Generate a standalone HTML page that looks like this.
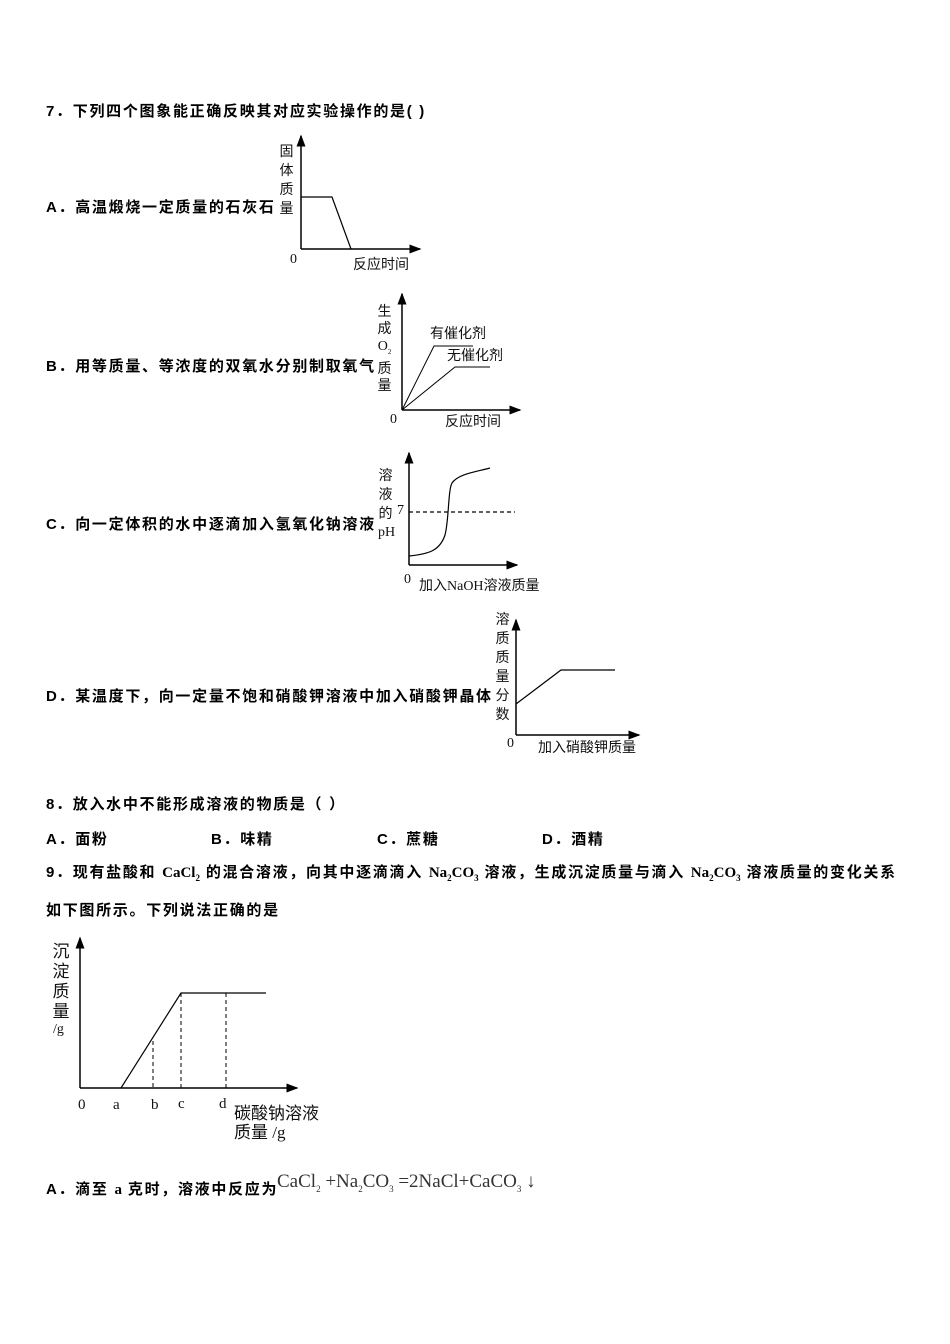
<!DOCTYPE html>
<html><head><meta charset="utf-8"><style>
body{margin:0;background:#fff;}
#p{position:relative;width:950px;height:1344px;overflow:hidden;font-family:"Liberation Serif","Noto Sans CJK SC",serif;}
.t{position:absolute;font-size:15px;letter-spacing:1.7px;font-weight:bold;white-space:nowrap;line-height:16px;font-family:"Liberation Sans","Noto Sans CJK SC",sans-serif;}
.t b{font-family:"Liberation Serif","Noto Serif CJK SC",serif;letter-spacing:0;}
.l{position:absolute;font-size:14px;white-space:nowrap;line-height:14px;font-family:"Liberation Serif","Noto Sans CJK SC",sans-serif;color:#111;}
.v{position:absolute;font-size:14px;line-height:15px;width:15px;text-align:center;font-family:"Liberation Serif","Noto Sans CJK SC",sans-serif;color:#111;}
svg{position:absolute;left:0;top:0;}
sub{font-size:9px;}
</style></head><body><div id="p">
<svg width="950" height="1344" fill="none" stroke="#000" stroke-width="1.5">
<defs><marker id="a" markerWidth="8" markerHeight="8" refX="7" refY="4" orient="auto"><path d="M0,1 L8,4 L0,7Z" fill="#000" stroke="none"/></marker></defs>
<path d="M301,249 V136" marker-end="url(#a)"/><path d="M301,249 H420" marker-end="url(#a)"/>
<path d="M301,197 H332 L351,249" stroke-width="1.2"/>
<path d="M402,410 V294" marker-end="url(#a)"/><path d="M402,410 H520" marker-end="url(#a)"/>
<path d="M402,410 L434,346 H473 M402,410 L455,367 H490" stroke-width="1"/>
<path d="M409,565 V453" marker-end="url(#a)"/><path d="M409,565 H517" marker-end="url(#a)"/>
<path d="M409,512 H515" stroke-dasharray="4,3" stroke-width="1.2"/>
<path d="M409,556 C430,554 440,550 445,535 C449,520 448,490 452,483 C458,474 475,472 490,468" stroke-width="1.2"/>
<path d="M516,735 V620" marker-end="url(#a)"/><path d="M516,735 H639" marker-end="url(#a)"/>
<path d="M516,704 L561,670 H615" stroke-width="1.2"/>
<path d="M80,1088 V938" marker-end="url(#a)"/><path d="M80,1088 H297" marker-end="url(#a)"/>
<path d="M121,1088 L181,993 H266" stroke-width="1.2"/>
<path d="M153,1041 V1088 M181,993 V1088 M226,993 V1088" stroke-dasharray="4,3" stroke-width="1"/>
</svg>
<div class="t" style="left:46px;top:104px">7．下列四个图象能正确反映其对应实验操作的是( )</div>
<div class="t" style="left:46px;top:200px">A．高温煅烧一定质量的石灰石</div>
<div class="t" style="left:46px;top:359px">B．用等质量、等浓度的双氧水分别制取氧气</div>
<div class="t" style="left:46px;top:517px">C．向一定体积的水中逐滴加入氢氧化钠溶液</div>
<div class="t" style="left:46px;top:689px">D．某温度下，向一定量不饱和硝酸钾溶液中加入硝酸钾晶体</div>
<div class="t" style="left:46px;top:797px">8．放入水中不能形成溶液的物质是（ ）</div>
<div class="t" style="left:46px;top:832px">A．面粉</div>
<div class="t" style="left:211px;top:832px">B．味精</div>
<div class="t" style="left:377px;top:832px">C．蔗糖</div>
<div class="t" style="left:542px;top:832px">D．酒精</div>
<div class="t" style="left:46px;top:865px">9．现有盐酸和 <b>CaCl<sub>2</sub></b> 的混合溶液，向其中逐滴滴入 <b>Na<sub>2</sub>CO<sub>3</sub></b> 溶液，生成沉淀质量与滴入 <b>Na<sub>2</sub>CO<sub>3</sub></b> 溶液质量的变化关系</div>
<div class="t" style="left:46px;top:903px">如下图所示。下列说法正确的是</div>
<div class="t" style="left:46px;top:1182px">A．滴至 <b>a</b> 克时，溶液中反应为</div>
<div class="l" style="left:277px;top:1172px;font-size:19px;line-height:19px;color:#333">CaCl<sub>2</sub> +Na<sub>2</sub>CO<sub>3</sub> =2NaCl+CaCO<sub>3</sub> ↓</div>
<div class="v" style="left:279px;top:143px;line-height:19px">固<br>体<br>质<br>量</div>
<div class="l" style="left:290px;top:253px">0</div>
<div class="l" style="left:353px;top:259px">反应时间</div>
<div class="v" style="left:377px;top:304px;line-height:17px">生<br>成<br>O<sub style="font-size:7px">2</sub><br>质<br>量</div>
<div class="l" style="left:430px;top:328px">有催化剂</div>
<div class="l" style="left:447px;top:350px">无催化剂</div>
<div class="l" style="left:390px;top:413px">0</div>
<div class="l" style="left:445px;top:416px">反应时间</div>
<div class="v" style="left:378px;top:467px;line-height:19px">溶<br>液<br>的</div>
<div class="l" style="left:378px;top:526px">pH</div>
<div class="l" style="left:397px;top:504px">7</div>
<div class="l" style="left:404px;top:573px">0</div>
<div class="l" style="left:419px;top:580px">加入NaOH溶液质量</div>
<div class="v" style="left:495px;top:611px;line-height:19px">溶<br>质<br>质<br>量<br>分<br>数</div>
<div class="l" style="left:507px;top:737px">0</div>
<div class="l" style="left:538px;top:742px">加入硝酸钾质量</div>
<div class="v" style="left:52px;top:942px;font-size:17px;line-height:20px;width:18px">沉<br>淀<br>质<br>量</div>
<div class="l" style="left:53px;top:1023px">/g</div>
<div class="l" style="left:78px;top:1098px;font-size:15px">0</div>
<div class="l" style="left:113px;top:1098px;font-size:15px">a</div>
<div class="l" style="left:151px;top:1098px;font-size:15px">b</div>
<div class="l" style="left:178px;top:1097px;font-size:15px">c</div>
<div class="l" style="left:219px;top:1097px;font-size:15px">d</div>
<div class="l" style="left:234px;top:1104px;font-size:17px;line-height:19px">碳酸钠溶液<br>质量 /g</div>
</div></body></html>
